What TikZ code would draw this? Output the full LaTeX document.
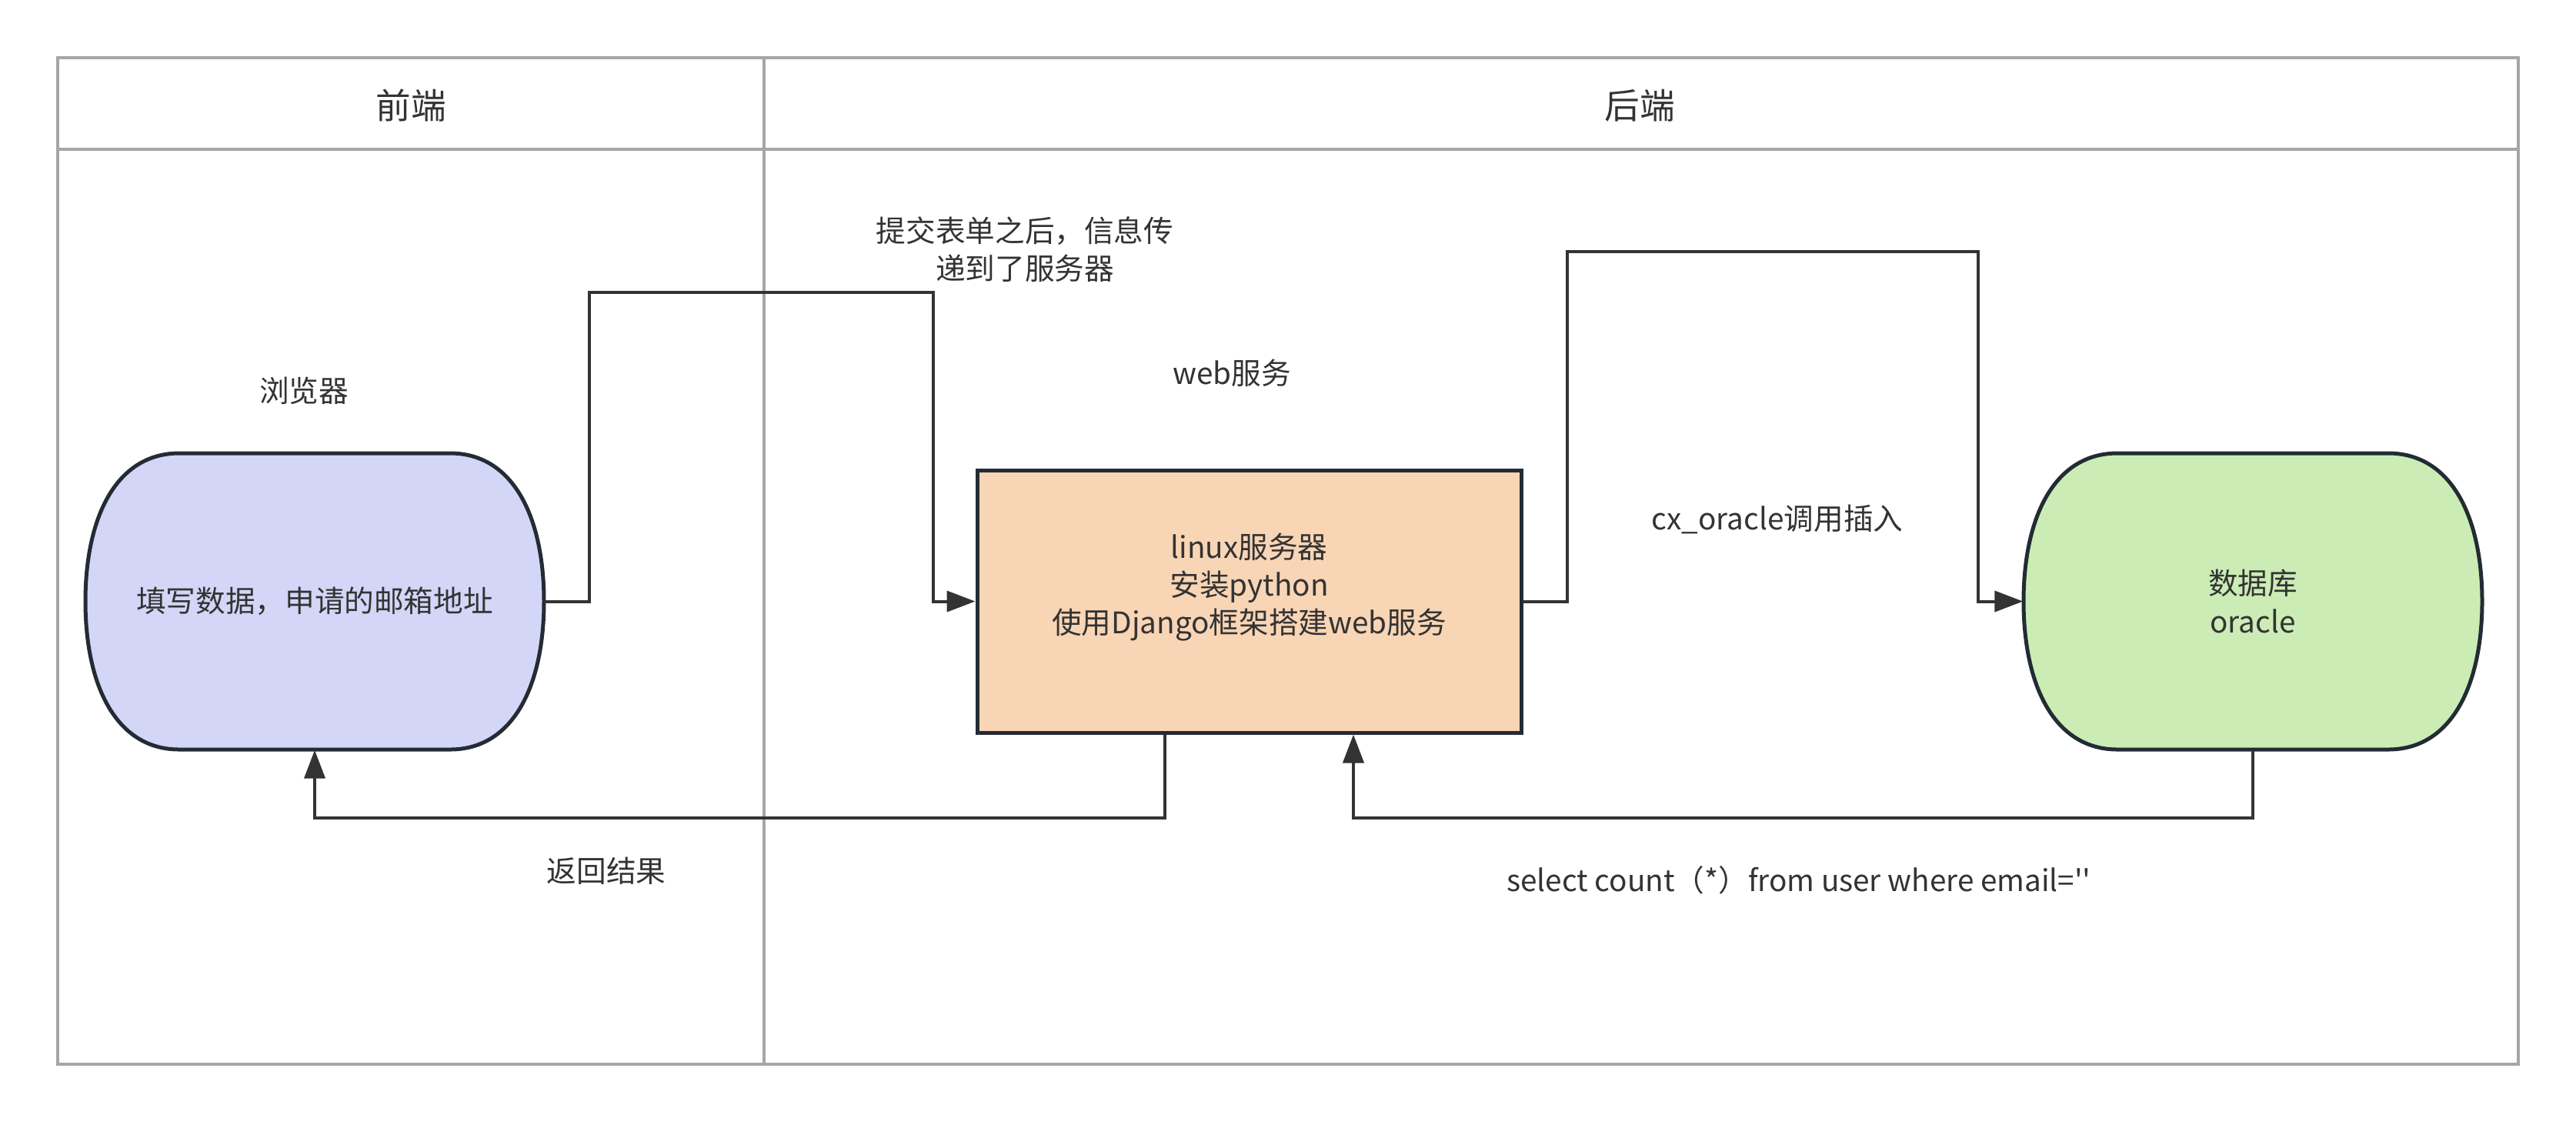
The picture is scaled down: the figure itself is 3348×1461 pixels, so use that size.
\documentclass[tikz,border=0pt]{standalone}
\usepackage{fontspec}
\newfontfamily\cjk{Noto Sans CJK SC}
\usetikzlibrary{arrows.meta}
\definecolor{txt}{HTML}{333333}
\definecolor{ln}{HTML}{333333}
\definecolor{frm}{HTML}{A6A6A6}
\definecolor{bdr}{HTML}{232B34}
\definecolor{blu}{HTML}{D3D6F7}
\definecolor{org}{HTML}{F8D5B5}
\definecolor{grn}{HTML}{CBEDB5}
\newcommand\pillshape[5]{%
  \filldraw[fill=#5, draw=bdr, line width=0.5mm]
    (#1+122,#2) -- (#3-122,#2)
    .. controls (#3-40,#2) and (#3,#2+83) .. (#3,#2/2+#4/2)
    .. controls (#3,#4-83) and (#3-40,#4) .. (#3-122,#4)
    -- (#1+122,#4)
    .. controls (#1+40,#4) and (#1,#4-83) .. (#1,#2/2+#4/2)
    .. controls (#1,#2+83) and (#1+40,#2) .. cycle;}
\tikzset{
  base/.style={font=\cjk\fontsize{11}{14}\selectfont, text=txt},
  head/.style={font=\cjk\fontsize{13}{16}\selectfont, text=txt},
  lbl/.style={base, align=center, inner sep=0pt},
  pillnode/.style={base, align=center, draw=none, minimum width=59.6mm, minimum height=38.5mm, inner sep=0pt},
  srvbox/.style={draw=bdr, fill=org, line width=0.5mm, minimum width=70.7mm, minimum height=34.1mm, inner sep=0pt},
  conn/.style={draw=ln, line width=0.4mm},
  arr/.style={conn, -{Triangle[length=3.7mm, width=2.7mm]}},
  frame/.style={draw=frm, line width=0.4mm}
}
\begin{document}
\begin{tikzpicture}[x=0.1mm, y=-0.1mm]
\useasboundingbox (0,0) rectangle (3348,1461);
% frame
\draw[frame] (75,75) rectangle (3273,1383);
\draw[frame] (75,194) -- (3273,194);
\draw[frame] (993,75) -- (993,1383);
\node[head] (hfront) at (534,137) {前端};
\node[head] (hback) at (2131,137) {后端};
% shapes
\pillshape{111}{589}{707}{974}{blu}
\pillshape{2630}{589}{3226}{974}{grn}
\node[pillnode] (browser) at (409,781.5) {填写数据，申请的邮箱地址};
\node[pillnode] (db) at (2928,781.5) {数据库\\oracle};
\node[srvbox] (server) at (1623.5,781.5) {};
\node[lbl] (servertext) at (1623.5,763) {linux服务器\\安装python\\使用Django框架搭建web服务};
% labels
\node[lbl] (lbrowser) at (395,508) {浏览器};
\node[lbl] (lweb) at (1601,485) {web服务};
\node[lbl] (lsubmit) at (1332,324) {提交表单之后，信息传\\递到了服务器};
\node[lbl] (lcx) at (2310,675) {cx\_oracle调用插入};
\node[lbl] (lret) at (788,1132) {返回结果};
\node[lbl] (lsel) at (2338,1144) {select count（*）from user where email=''};
% connectors
\coordinate (p1) at (766,380);
\coordinate (p2) at (1213,380);
\draw[arr] (browser.east) -| (p1) -- (p2) |- (server.west);
\coordinate (q1) at (2037,327);
\coordinate (q2) at (2571,327);
\draw[arr] (server.east) -| (q1) -- (q2) |- (db.west);
\coordinate (r1) at (1514,1063);
\draw[arr] (server.south -| r1) -- (r1) -| (browser.south);
\coordinate (r2) at (1759,1063);
\draw[arr] (db.south) |- (r2) -- (server.south -| r2);
\end{tikzpicture}
\end{document}
